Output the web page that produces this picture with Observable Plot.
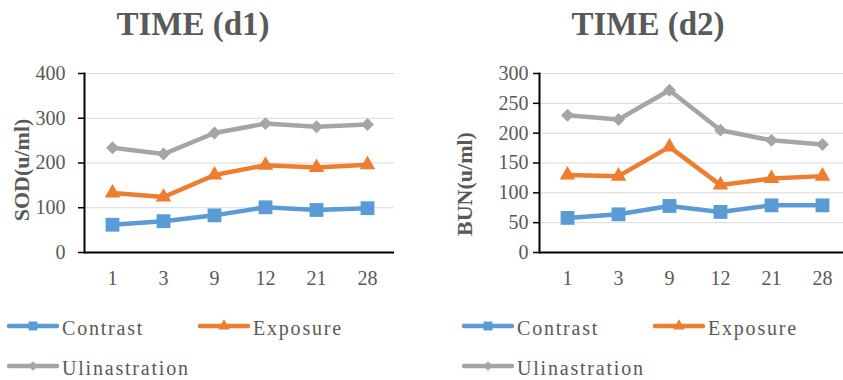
<!DOCTYPE html>
<html><head><meta charset="utf-8">
<script src="https://cdn.jsdelivr.net/npm/d3@7"></script>
<script src="https://cdn.jsdelivr.net/npm/@observablehq/plot@0.6"></script>
<style>
body{margin:0;background:#fff;}
#root{position:relative;width:843px;height:380px;overflow:hidden;font-family:'Liberation Serif','DejaVu Serif',serif;color:#595959;background:#fff;}
.abs{position:absolute;white-space:nowrap;line-height:1;font-family:'Liberation Serif','DejaVu Serif',serif;}
.title{font-weight:bold;font-size:33px;transform:translateX(-50%);}
.ylab{font-weight:bold;font-size:22px;transform:translate(-50%,-50%) rotate(-90deg);}
.leg{font-size:20px;font-weight:normal;letter-spacing:1.8px;}
svg text{font-family:'Liberation Serif','DejaVu Serif',serif;}
</style></head><body><div id="root"></div>
<script>
const days = ["1", "3", "9", "12", "21", "28"];
const seriesNames = ["Contrast", "Exposure", "Ulinastration"];
const seriesColors = ["#5b9bd5", "#ed7d31", "#a5a5a5"];
const seriesSymbols = ["square", "triangle", "diamond2"];

const sodContrast = [62, 70, 83, 101, 95, 99];
const sodExposure = [133, 124, 173, 195, 190, 196];
const sodUlinastration = [234, 220, 267, 288, 281, 286];

const bunContrast = [58, 64, 78, 68, 79, 79];
const bunExposure = [130, 128, 177, 113, 124, 128];
const bunUlinastration = [230, 223, 272, 205, 188, 181];

const sodTicks = [0, 100, 200, 300, 400];
const bunTicks = [0, 50, 100, 150, 200, 250, 300];

const FONT = "'Liberation Serif', 'DejaVu Serif', serif";
const root = document.getElementById("root");
const symR = {square: 7.8, triangle: 5.8, diamond2: 5.8};

function panel(values, yTicks, cfg) {
  const data = seriesNames.flatMap((s, i) => days.map((d, j) => ({day: d, series: s, value: values[i][j]})));
  const marks = [
    Plot.gridY(yTicks, {stroke: "#d9d9d9", strokeOpacity: 1, strokeWidth: 1}),
    Plot.axisY(yTicks, {tickSize: 6, tickPadding: cfg.tickPadding, stroke: "#000", strokeWidth: 1.5, fill: "#595959", fontSize: 20, fontFamily: FONT, label: null}),
    Plot.axisX({tickSize: 0, tickPadding: 18, fill: "#595959", fontSize: 20, fontFamily: FONT, label: null}),
    Plot.frame({anchor: "left", stroke: "#000", strokeWidth: 2}),
    Plot.ruleY([0], {stroke: "#000", strokeWidth: 2})
  ];
  seriesNames.forEach((s, i) => {
    const sd = data.filter(d => d.series === s);
    marks.push(Plot.line(sd, {x: "day", y: "value", stroke: seriesColors[i], strokeWidth: 4.5}));
    marks.push(Plot.dot(sd, {x: "day", y: "value", symbol: seriesSymbols[i], r: symR[seriesSymbols[i]], fill: seriesColors[i], stroke: "none"}));
  });
  const svg = Plot.plot({
    width: cfg.width, height: 300,
    marginLeft: cfg.marginLeft, marginRight: cfg.marginRight, marginTop: 73, marginBottom: 48,
    style: {fontFamily: FONT, background: "transparent", overflow: "visible"},
    x: {type: "point", domain: days, padding: 0.5},
    y: {domain: [0, yTicks[yTicks.length - 1]]},
    marks
  });
  svg.style.position = "absolute";
  svg.style.left = cfg.left + "px";
  svg.style.top = "0px";
  root.appendChild(svg);
}

panel([sodContrast, sodExposure, sodUlinastration], sodTicks, {left: 0, width: 421, marginLeft: 84, marginRight: 27, tickPadding: 13});
panel([bunContrast, bunExposure, bunUlinastration], bunTicks, {left: 421, width: 430, marginLeft: 118, marginRight: 1, tickPadding: 5});

function addText(cls, text, left, top) {
  const d = document.createElement("div");
  d.className = "abs " + cls;
  d.textContent = text;
  d.style.left = left + "px";
  d.style.top = top + "px";
  root.appendChild(d);
  return d;
}
addText("title", "TIME (d1)", 193, 8);
addText("title", "TIME (d2)", 648, 8);
addText("ylab", "SOD(u/ml)", 22, 170);
addText("ylab", "BUN(u/ml)", 465, 184);

// legends
const legPos = [[7, 326], [198, 326], [7, 366]];
const legSym = {square: d3.symbolSquare, triangle: d3.symbolTriangle, diamond2: d3.symbolDiamond2};
const legSize = {square: 80, triangle: 60, diamond2: 55};
[0, 455].forEach(off => {
  seriesNames.forEach((s, i) => {
    const [x, y] = legPos[i];
    const svg = d3.create("svg").attr("width", 52).attr("height", 20)
      .style("position", "absolute").style("left", (x + off) + "px").style("top", (y - 10) + "px");
    svg.append("line").attr("x1", 2).attr("x2", 50).attr("y1", 10).attr("y2", 10)
      .attr("stroke", seriesColors[i]).attr("stroke-width", 4.5).attr("stroke-linecap", "round");
    svg.append("path").attr("transform", "translate(26,10)")
      .attr("d", d3.symbol(legSym[seriesSymbols[i]], legSize[seriesSymbols[i]])())
      .attr("fill", seriesColors[i]);
    root.appendChild(svg.node());
    addText("leg", s, x + off + 55, y - 8);
  });
});
</script></body></html>
